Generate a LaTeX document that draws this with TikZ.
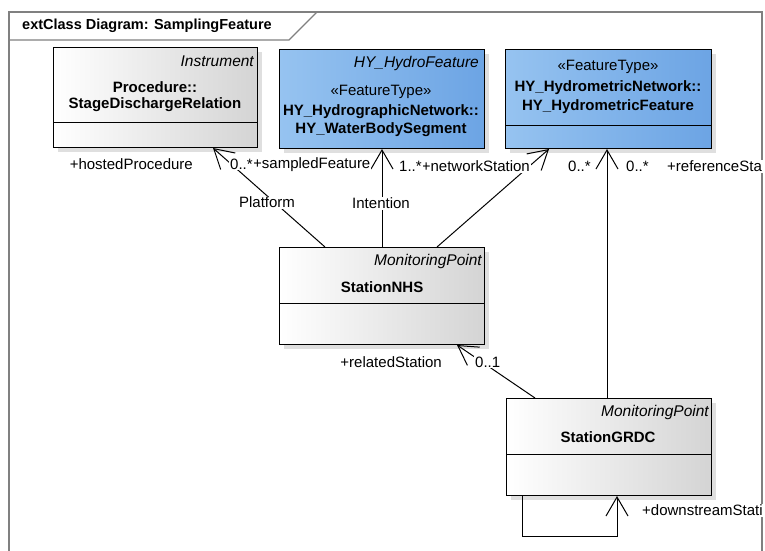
\documentclass[tikz,border=0pt]{standalone}
\usepackage{fontspec}
\setmainfont{Liberation Sans}
\usetikzlibrary{arrows.meta,calc,shadows}
\definecolor{blueL}{RGB}{150,195,240}
\definecolor{blueR}{RGB}{108,164,228}
\definecolor{greyR}{RGB}{212,212,212}
\begin{document}
\begin{tikzpicture}[x=1pt,y=-1pt,
  classbox/.style={draw=black, line width=1pt, rectangle, inner sep=0pt, anchor=north west,
    drop shadow={shadow xshift=4pt,shadow yshift=-4pt,fill=black!25}},
  whitebox/.style={classbox, left color=white, right color=greyR},
  bluebox/.style={classbox, left color=blueL, right color=blueR},
  ttl/.style={font=\fontsize{14.5}{17}\selectfont\bfseries, inner sep=0pt},
  bname/.style={font=\fontsize{15}{18}\selectfont\bfseries, inner sep=0pt},
  ital/.style={font=\fontsize{15.5}{18}\selectfont\itshape, inner sep=0pt, anchor=east},
  stereo/.style={font=\fontsize{15}{18}\selectfont, inner sep=0pt},
  lbl/.style={font=\fontsize{15}{18}\selectfont, inner sep=1pt, fill=white},
  conn/.style={draw=black, line width=1pt},
  arr/.style={conn, -{Straight Barb[length=19pt,width=22pt]}},
  frame/.style={draw=black!50, line width=1.2pt}
]
\useasboundingbox (0,0) rectangle (765,550);

% frame
\draw[frame] (9,551) -- (9,12) -- (762,12) -- (762,551);
\draw[frame] (9,40) -- (289,40) -- (317,12);
\node[ttl, anchor=west] (title) at (22,26) {extClass Diagram: SamplingFeature};

% classes
\node[whitebox, minimum width=204pt, minimum height=100pt] (inst) at (53,47) {};
\node[bluebox, minimum width=205pt, minimum height=99pt] (wbs) at (279,49) {};
\node[bluebox, minimum width=206pt, minimum height=99pt] (hmf) at (505,49) {};
\node[whitebox, minimum width=205pt, minimum height=97pt] (nhs) at (279,247) {};
\node[whitebox, minimum width=205pt, minimum height=97pt] (grdc) at (506,398) {};

% compartments
\draw[conn] ($(inst.north west)+(0,75)$) -- ($(inst.north east)+(0,75)$);
\draw[conn] ($(hmf.north west)+(0,76)$) -- ($(hmf.north east)+(0,76)$);
\draw[conn] ($(nhs.north west)+(0,56)$) -- ($(nhs.north east)+(0,56)$);
\draw[conn] ($(grdc.north west)+(0,56)$) -- ($(grdc.north east)+(0,56)$);

% class texts
\node[ital] (instS) at ($(inst.north east)+(-4,14)$) {Instrument};
\node[bname] (instA) at (155,87) {Procedure::};
\node[bname] (instB) at (155,105) {StageDischargeRelation};

\node[ital] (wbsS) at ($(wbs.north east)+(-6,14)$) {HY\_HydroFeature};
\node[stereo] (wbsT) at (381,92) {«FeatureType»};
\node[bname] (wbsA) at (381,112) {HY\_HydrographicNetwork::};
\node[bname] (wbsB) at (381,130) {HY\_WaterBodySegment};

\node[stereo] (hmfT) at (608,67) {«FeatureType»};
\node[bname] (hmfA) at (608,88) {HY\_HydrometricNetwork::};
\node[bname] (hmfB) at (608,107) {HY\_HydrometricFeature};

\node[ital] (nhsS) at ($(nhs.north east)+(-3,14)$) {MonitoringPoint};
\node[bname] (nhsA) at (382,287) {StationNHS};

\node[ital] (grdcS) at ($(grdc.north east)+(-3,14)$) {MonitoringPoint};
\node[bname] (grdcA) at (608,437) {StationGRDC};

% connectors
\draw[arr] ($(nhs.north west)+(46,0)$) -- ($(inst.south west)+(160,0)$);
\draw[arr] (nhs.north) -- (wbs.south);
\draw[arr] ($(nhs.north west)+(158,0)$) -- ($(hmf.south west)+(44,0)$);
\draw[arr] ($(grdc.north west)+(101,0)$) -- ($(hmf.south west)+(102,0)$);
\draw[arr] ($(grdc.north west)+(29,0)$) -- ($(nhs.south west)+(178,0)$);
\draw[arr] ($(grdc.south west)+(16,0)$) -- ++(0,40) -| ($(grdc.south west)+(111,0)$);

% connector labels
\node[lbl, anchor=east] (hp) at (194,164) {+hostedProcedure};
\node[lbl, anchor=west] (sf) at (252,165) {+sampledFeature};
\node[lbl, anchor=west] (m1) at (229,164) {0..*};
\node[lbl] (plat) at (267,202) {Platform};
\node[lbl] (intn) at (381,203) {Intention};
\node[lbl, anchor=east] (ns) at (531,166) {+networkStation};
\node[lbl, anchor=west] (m2) at (398,166) {1..*};
\node[lbl, anchor=west] (m3) at (567,166) {0..*};
\node[lbl, anchor=west] (m4) at (625,166) {0..*};
\node[lbl, anchor=west] (rs) at (666,166) {+referenceSta};
\node[lbl, anchor=east] (rel) at (443,362) {+relatedStation};
\node[lbl, anchor=west] (m5) at (474,362) {0..1};
\node[lbl, anchor=west] (ds) at (641,510) {+downstreamStati};
\end{tikzpicture}
\end{document}
